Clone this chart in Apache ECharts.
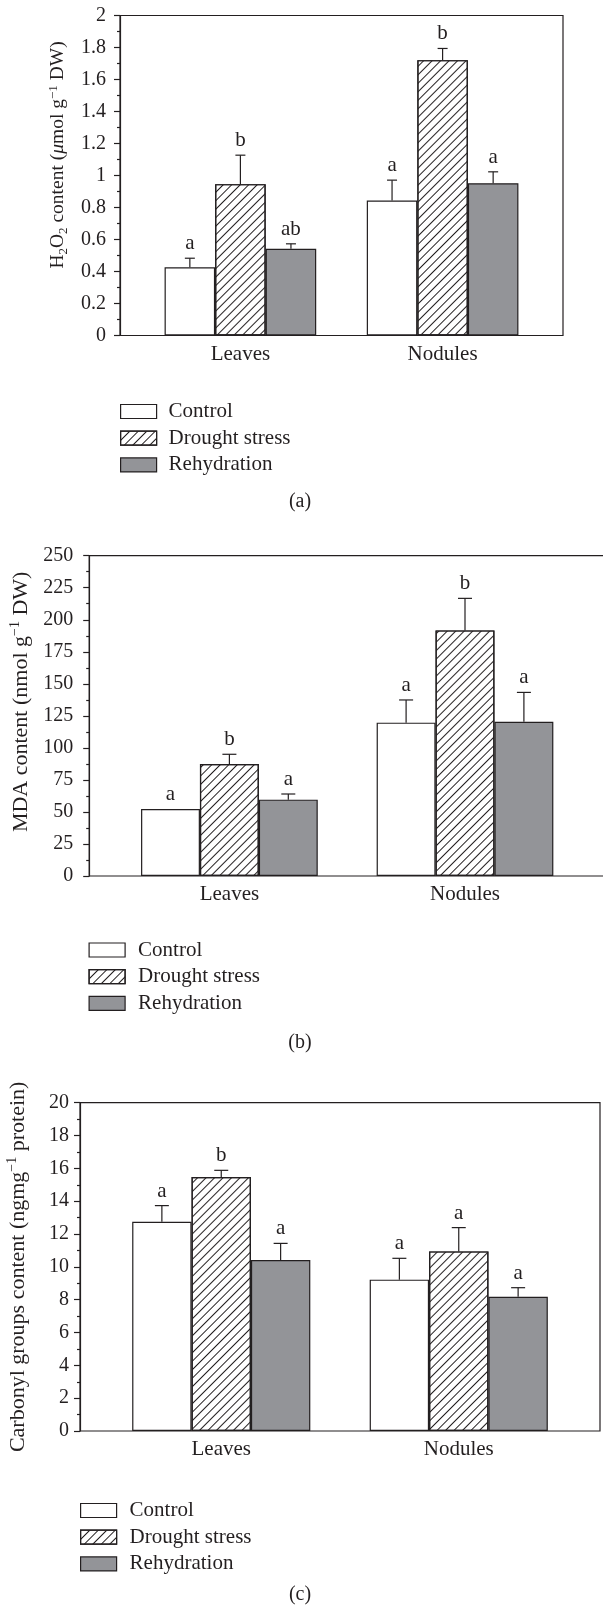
<!DOCTYPE html>
<html>
<head>
<meta charset="utf-8">
<script src="https://cdn.jsdelivr.net/npm/echarts@6/dist/echarts.min.js"></script>
<style>
html, body { margin: 0; padding: 0; background: #fff; }
#main { width: 603px; height: 1614px; }
</style>
</head>
<body>
<div id="main"></div>
<script>
var categories = ['Leaves', 'Nodules'];
var groups = ['Control', 'Drought stress', 'Rehydration'];

// (a) H2O2 content, umol g-1 DW
var h2o2Control = [0.427, 0.844];
var h2o2Drought = [0.946, 1.721];
var h2o2Rehyd = [0.542, 0.952];
var h2o2Err = [[0.056, 0.127], [0.181, 0.073], [0.031, 0.071]];
var h2o2Letters = ['a', 'a', 'b', 'b', 'ab', 'a'];
var h2o2Ticks = [0, 2, 0.2];

// (b) MDA content, nmol g-1 DW
var mdaControl = [52.3, 119.7];
var mdaDrought = [87.4, 191.7];
var mdaRehyd = [59.6, 120.4];
var mdaErr = [[0, 17.7], [7.6, 25.0], [4.4, 22.9]];
var mdaLetters = ['a', 'a', 'b', 'b', 'a', 'a'];
var mdaTicks = [0, 250, 25];

// (c) carbonyl groups, ng mg-1 protein
var carbControl = [12.75, 9.22];
var carbDrought = [15.47, 10.94];
var carbRehyd = [10.42, 8.18];
var carbErr = [[0.98, 1.30], [0.41, 1.45], [1.01, 0.55]];
var carbLetters = ['a', 'a', 'b', 'a', 'a', 'a'];
var carbTicks = [0, 20, 2];

var ink = '#231f20';
var font = '"Liberation Serif", "Times New Roman", serif';
var fills = ['#ffffff', '#ffffff', '#939498'];
var hatch = {
    symbol: 'rect', symbolSize: 1, color: ink,
    dashArrayX: [1, 0], dashArrayY: [1, 5], rotation: -Math.PI / 4
};

function richName(size) {
    var small = Math.round(size * 0.65);
    return {
        n: { fontSize: size, fontFamily: font, color: ink, lineHeight: size + 4 },
        it: { fontSize: size, fontFamily: font, color: ink, lineHeight: size + 4, fontStyle: 'italic' },
        sub: { fontSize: small, fontFamily: font, color: ink, lineHeight: small, verticalAlign: 'bottom' },
        sup: { fontSize: small, fontFamily: font, color: ink, lineHeight: small, verticalAlign: 'top' }
    };
}

var panels = [
    {
        means: [h2o2Control, h2o2Drought, h2o2Rehyd], err: h2o2Err, letters: h2o2Letters, ticks: h2o2Ticks,
        name: '{n|H}{sub|2}{n|O}{sub|2}{n| content (}{it|μ}{n|mol g}{sup|−1}{n| DW)}', nameSize: 19.5,
        frame: { left: 120, top: 15.5, width: 443, height: 320 }, inset: 19.3,
        nameGap: 46, namePad: 41, labelMargin: 14, cap: 5,
        legend: { left: 120, top: 401, pad: 7 }, caption: 492
    },
    {
        means: [mdaControl, mdaDrought, mdaRehyd], err: mdaErr, letters: mdaLetters, ticks: mdaTicks,
        name: '{n|MDA content (nmol g}{sup|−1}{n| DW)}', nameSize: 22,
        frame: { left: 89.2, top: 555.7, width: 516, height: 320.3 }, inset: 22.4,
        nameGap: 55, namePad: 28, labelMargin: 16, cap: 7,
        legend: { left: 88.5, top: 939.5, pad: 8 }, caption: 1033
    },
    {
        means: [carbControl, carbDrought, carbRehyd], err: carbErr, letters: carbLetters, ticks: carbTicks,
        name: '{n|Carbonyl groups content (ngmg}{sup|−1}{n| protein)}', nameSize: 22,
        frame: { left: 80, top: 1102.7, width: 520, height: 328.3 }, inset: 22.5,
        nameGap: 49, namePad: 0, labelMargin: 11, cap: 7,
        legend: { left: 80, top: 1500, pad: 8 }, caption: 1585
    }
];

// error bars + significance letters, positioned from the category scale
function errorBars(letters, cap) {
    return function (params, api) {
        var c = api.value(0), k = api.value(1);
        var base = api.coord([c, api.value(2)]);
        var top = api.coord([c, api.value(3)]);
        var bw = api.size([1, 0])[0] * 0.75 / 3;
        var x = base[0] + (k - 1) * bw;
        var children = [];
        if (top[1] < base[1] - 0.5) {
            children.push({ type: 'line', shape: { x1: x, y1: base[1], x2: x, y2: top[1] }, style: { stroke: ink, lineWidth: 1.2 } });
            children.push({ type: 'line', shape: { x1: x - cap, y1: top[1], x2: x + cap, y2: top[1] }, style: { stroke: ink, lineWidth: 1.2 } });
        }
        children.push({
            type: 'text', x: x, y: top[1] - 4,
            style: {
                text: letters[params.dataIndex], font: '21px ' + font, fill: ink,
                align: 'center', verticalAlign: 'bottom', textAlign: 'center', textVerticalAlign: 'bottom'
            }
        });
        return { type: 'group', children: children };
    };
}

var option = { animation: false, backgroundColor: '#fff', grid: [], xAxis: [], yAxis: [], series: [], legend: [], title: [] };

panels.forEach(function (p, i) {
    var ga = 2 * i, gb = 2 * i + 1;
    var f = p.frame;
    option.grid.push({
        left: f.left, top: f.top, width: f.width, height: f.height,
        show: true, borderColor: ink, borderWidth: 1.2, backgroundColor: 'transparent', outerBoundsMode: 'none'
    });
    option.grid.push({
        left: f.left + p.inset, top: f.top, width: f.width - 2 * p.inset, height: f.height,
        show: false, outerBoundsMode: 'none'
    });
    option.xAxis.push({ gridIndex: ga, type: 'value', show: false, min: 0, max: 1 });
    option.xAxis.push({
        gridIndex: gb, type: 'category', data: categories,
        axisLine: { show: false }, axisTick: { show: false }, splitLine: { show: false },
        axisLabel: { color: ink, fontSize: 21, fontFamily: font, margin: 8, interval: 0 }
    });
    option.yAxis.push({
        gridIndex: ga, type: 'value', min: p.ticks[0], max: p.ticks[1], interval: p.ticks[2],
        axisLine: { show: true, lineStyle: { color: ink, width: 1.2 } },
        axisTick: { show: true, length: 6, lineStyle: { color: ink, width: 1.2 } },
        minorTick: { show: true, splitNumber: 2, length: 3, lineStyle: { color: ink, width: 1.2 } },
        splitLine: { show: false },
        axisLabel: { color: ink, fontSize: 20, fontFamily: font, margin: p.labelMargin, showMinLabel: true, showMaxLabel: true },
        name: p.name, nameLocation: 'middle', nameGap: p.nameGap, nameRotate: 90,
        nameTextStyle: { color: ink, fontFamily: font, fontSize: p.nameSize, padding: [0, 0, 0, p.namePad], rich: richName(p.nameSize) }
    });
    option.yAxis.push({ gridIndex: gb, type: 'value', show: false, min: p.ticks[0], max: p.ticks[1] });

    groups.forEach(function (g, k) {
        option.series.push({
            name: g, type: 'bar', xAxisIndex: gb, yAxisIndex: gb,
            data: p.means[k], barGap: '0%', barCategoryGap: '25%',
            itemStyle: { color: fills[k], borderColor: ink, borderWidth: 1.2, decal: k === 1 ? hatch : null },
            emphasis: { disabled: true }
        });
    });

    var eb = [];
    for (var k = 0; k < 3; k++) {
        for (var c = 0; c < categories.length; c++) {
            eb.push([c, k, p.means[k][c], p.means[k][c] + p.err[k][c]]);
        }
    }
    option.series.push({
        type: 'custom', xAxisIndex: gb, yAxisIndex: gb, z: 5,
        data: eb, encode: { x: 0, y: 3 },
        renderItem: errorBars(p.letters, p.cap)
    });

    option.legend.push({
        orient: 'vertical', left: p.legend.left, top: p.legend.top, padding: 0,
        itemWidth: 36, itemHeight: 14, itemGap: 5.7, icon: 'rect', selectedMode: false,
        data: groups,
        itemStyle: { borderColor: ink, borderWidth: 1.2 },
        textStyle: { color: ink, fontSize: 21, fontFamily: font, lineHeight: 21, padding: [0, 0, 0, p.legend.pad] }
    });
    option.title.push({
        text: '(' + 'abc'.charAt(i) + ')', left: 300, top: p.caption, textAlign: 'center', padding: 0,
        textStyle: { color: ink, fontSize: 20, fontWeight: 'normal', fontFamily: font }
    });
});

var myChart = echarts.init(document.getElementById('main'));
myChart.setOption(option);
</script>
</body>
</html>
